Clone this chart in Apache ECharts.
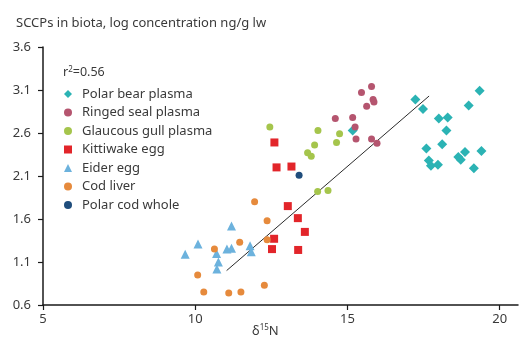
<!DOCTYPE html>
<html>
<head>
<meta charset="utf-8">
<script src="https://cdn.jsdelivr.net/npm/echarts@6/dist/echarts.min.js"></script>
<style>
  html, body { margin: 0; padding: 0; background: #fff; }
  #chart { width: 519px; height: 338px; }
</style>
</head>
<body>
<div id="chart"></div>
<script>
// δ15N (x) vs log SCCP concentration (y), one list per species
const polarBear = [
  [19.34, 3.09], [17.23, 2.99], [17.48, 2.88], [18.98, 2.92], [18.00, 2.77],
  [18.29, 2.78], [18.25, 2.63], [18.11, 2.47], [17.59, 2.42], [19.40, 2.39],
  [18.86, 2.38], [18.64, 2.32], [18.72, 2.29], [17.67, 2.28], [17.74, 2.22],
  [17.97, 2.23], [19.15, 2.19], [15.17, 2.63]
];
const ringedSeal = [
  [15.79, 3.14], [15.46, 3.07], [15.84, 2.99], [15.87, 2.96], [15.63, 2.91],
  [14.60, 2.77], [15.17, 2.78], [15.25, 2.67], [15.28, 2.53], [15.79, 2.53],
  [15.97, 2.48]
];
const glaucousGull = [
  [12.45, 2.67], [14.03, 2.63], [14.74, 2.59], [14.64, 2.49], [13.92, 2.46],
  [13.69, 2.37], [13.81, 2.33], [14.02, 1.92], [14.36, 1.93]
];
const kittiwake = [
  [12.60, 2.49], [12.67, 2.20], [13.16, 2.21], [13.04, 1.75], [13.37, 1.61],
  [13.60, 1.45], [12.59, 1.37], [12.52, 1.25], [13.38, 1.24]
];
const eider = [
  [11.19, 1.52], [10.09, 1.31], [9.67, 1.19], [10.70, 1.20], [11.04, 1.25],
  [11.19, 1.26], [11.80, 1.29], [11.84, 1.22], [10.76, 1.10], [10.71, 1.02]
];
const codLiver = [
  [11.95, 1.80], [12.36, 1.58], [11.46, 1.33], [10.63, 1.25], [12.36, 1.36],
  [10.08, 0.95], [10.28, 0.75], [11.10, 0.74], [11.50, 0.75], [12.27, 0.83]
];
const polarCod = [[13.41, 2.11]];

// fitted regression line end points
const regression = [[11.03, 1.00], [17.68, 3.03]];
const rSquared = '0.56';

const xTicks = [5, 10, 15, 20];
const yTicks = [0.6, 1.1, 1.6, 2.1, 2.6, 3.1, 3.6];

const FONT = 'Noto Sans';
const TEXT = '#3a3a3a';

const groups = [
  { name: 'Polar bear plasma',    data: polarBear,    symbol: 'diamond',  size: 10, color: '#2bb3b4' },
  { name: 'Ringed seal plasma',   data: ringedSeal,   symbol: 'circle',   size: 7,  color: '#b5556f' },
  { name: 'Glaucous gull plasma', data: glaucousGull, symbol: 'circle',   size: 7,  color: '#a5c54c' },
  { name: 'Kittiwake egg',        data: kittiwake,    symbol: 'rect',     size: 8,  color: '#e2252a' },
  { name: 'Eider egg',            data: eider,        symbol: 'triangle', size: 9,  color: '#6cb2dd' },
  { name: 'Cod liver',            data: codLiver,     symbol: 'circle',   size: 7,  color: '#e68a3c' },
  { name: 'Polar cod whole',      data: polarCod,     symbol: 'circle',   size: 7,  color: '#1f4d7c' }
];

const chart = echarts.init(document.getElementById('chart'), null, { renderer: 'canvas' });

const series = groups.map(g => ({
  type: 'scatter',
  name: g.name,
  data: g.data,
  symbol: g.symbol,
  symbolSize: g.size,
  itemStyle: { color: g.color, opacity: 1 },
  emphasis: { disabled: true },
  z: 3
}));

series.push({
  type: 'line',
  name: 'fit',
  data: regression,
  symbol: 'none',
  lineStyle: { color: '#2a2a2a', width: 1 },
  silent: true,
  z: 2
});

chart.setOption({
  animation: false,
  textStyle: { fontFamily: FONT },
  grid: { left: 43, right: 1, top: 47, bottom: 33, containLabel: false },
  title: {
    text: 'SCCPs in biota, log concentration ng/g lw',
    left: 11, top: 12,
    textStyle: { fontFamily: FONT, fontSize: 13, fontWeight: 'normal', color: TEXT }
  },
  legend: {
    orient: 'vertical',
    left: 59, top: 81,
    data: groups.map(g => g.name),
    itemWidth: 8, itemHeight: 8,
    itemGap: 2.5,
    selectedMode: false,
    textStyle: { fontFamily: FONT, fontSize: 13, color: TEXT, lineHeight: 16, padding: [0, 0, 0, 5] }
  },
  graphic: [
    {
      type: 'text', left: 63, top: 66,
      style: {
        text: '{b|r}{s|2}{b|=' + rSquared + '}',
        rich: {
          b: { fontFamily: FONT, fontSize: 12.5, fill: TEXT, verticalAlign: 'bottom' },
          s: { fontFamily: FONT, fontSize: 8, fill: TEXT, verticalAlign: 'top', padding: [0, 0, 5, 0] }
        }
      }
    },
    {
      type: 'text', left: 252, top: 324,
      style: {
        text: '{b|δ}{s|15}{b|N}',
        rich: {
          b: { fontFamily: FONT, fontSize: 13, fill: TEXT },
          s: { fontFamily: FONT, fontSize: 8, fill: TEXT, padding: [0, 0, 6, 0] }
        }
      }
    }
  ],
  xAxis: {
    type: 'value',
    min: 5, max: 20.6, interval: 5,
    axisLine: { show: true, onZero: false, lineStyle: { color: '#1a1a1a', width: 1.5 } },
    axisTick: { show: true, length: 5, inside: false, customValues: xTicks, lineStyle: { color: '#1a1a1a', width: 1.2 } },
    axisLabel: {
      customValues: xTicks, margin: 8,
      fontFamily: FONT, fontSize: 13, color: TEXT
    },
    splitLine: { show: false }
  },
  yAxis: {
    type: 'value',
    min: 0.6, max: 3.6, interval: 0.5,
    axisLine: { show: true, onZero: false, lineStyle: { color: '#1a1a1a', width: 1.5 } },
    axisTick: { show: true, length: 5, inside: false, customValues: yTicks, lineStyle: { color: '#1a1a1a', width: 1.2 } },
    axisLabel: {
      customValues: yTicks, margin: 12,
      fontFamily: FONT, fontSize: 13, color: TEXT,
      formatter: v => Number(v).toFixed(1)
    },
    splitLine: { show: false }
  },
  series: series
});
</script>
</body>
</html>
